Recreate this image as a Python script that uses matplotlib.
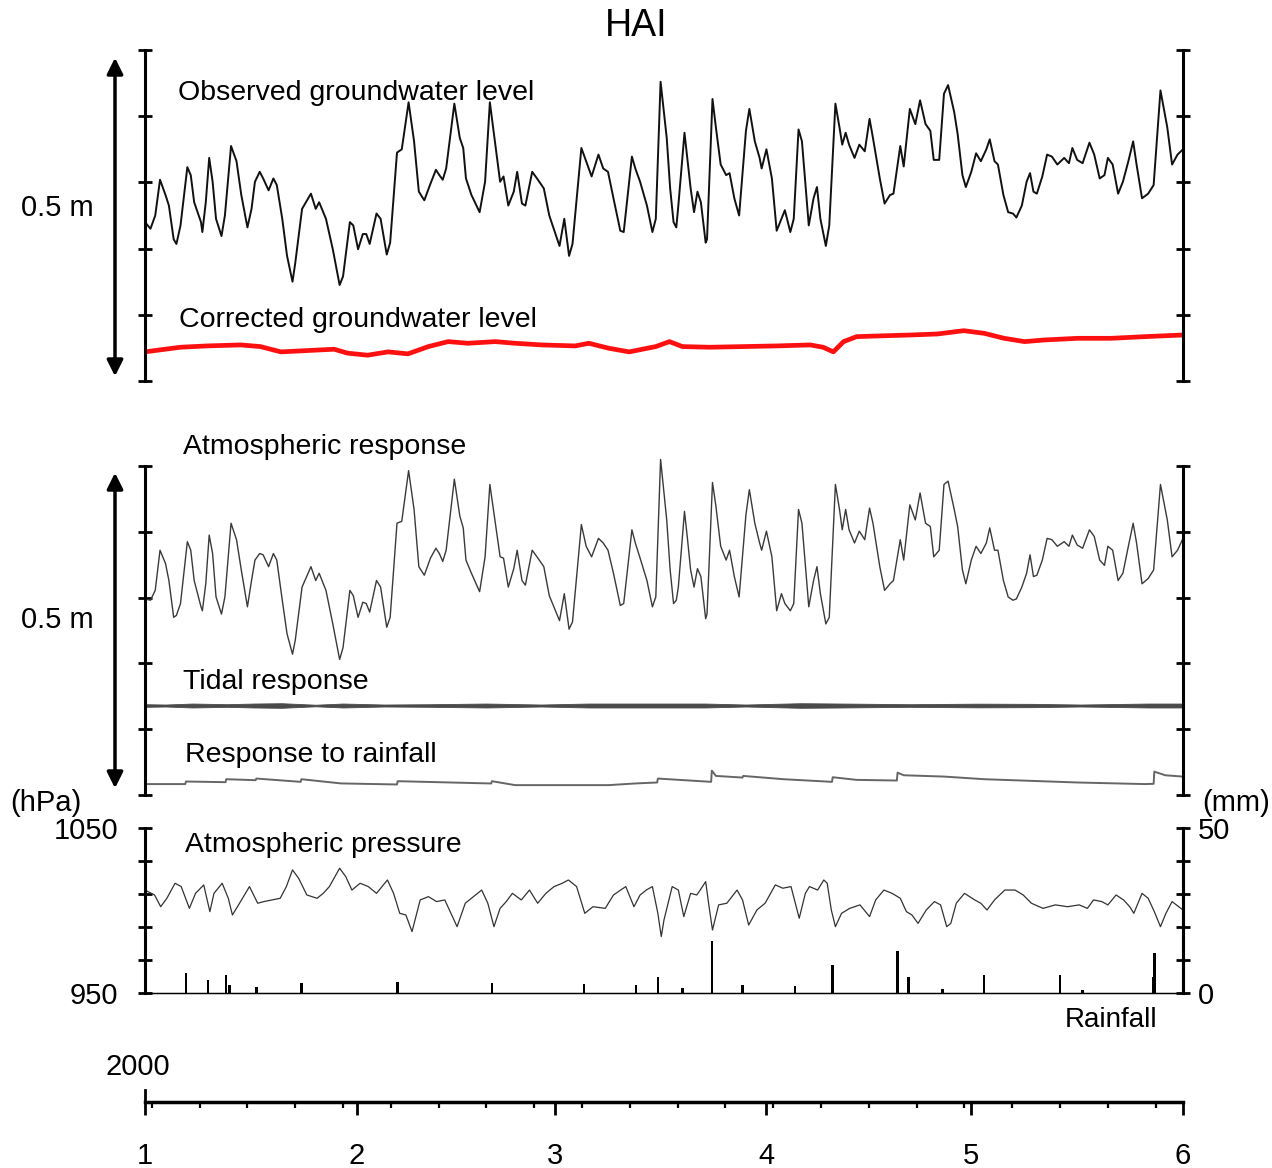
import matplotlib
matplotlib.use("Agg")
import matplotlib.pyplot as plt
from matplotlib.patches import FancyArrowPatch

plt.rcParams['font.family'] = ['Liberation Sans', 'DejaVu Sans']

# ---- data (day of year 2000, Jan 1 = 0) ----
lvl_day = [0.0, 0.8, 1.5, 2.2, 3.0, 3.5, 4.2, 4.6, 5.2, 6.2, 6.7, 7.2, 8.2, 8.4, 8.9, 9.4, 9.9, 10.4,
           11.2, 11.7, 12.6, 13.4, 14.1, 15.0, 15.6, 16.1, 16.8, 17.3, 18.1, 18.8, 19.3, 20.1, 20.8,
           21.6, 22.0, 23.0, 24.3, 25.0, 25.5, 26.5, 27.5, 28.5, 29.0, 30.0, 30.5, 31.2, 31.9, 32.4,
           32.9, 33.9, 34.5, 35.4, 35.9, 36.9, 37.6, 38.6, 39.4, 40.1, 40.9, 41.8, 42.6, 43.1, 43.6,
           44.1, 45.3, 46.1, 46.6, 47.0, 47.8, 49.0, 49.8, 50.5, 51.3, 52.0, 52.5, 53.2, 54.0, 54.5,
           55.2, 55.7, 56.7, 57.4, 58.4, 59.2, 60.7, 61.4, 62.1, 62.6, 63.9, 64.6, 65.4, 66.4, 67.1,
           67.8, 68.6, 69.6, 70.1, 71.3, 71.8, 72.5, 73.5, 74.3, 74.8, 75.5,
           76.4, 76.9, 77.4, 77.8, 78.1, 79.0, 79.4, 79.9, 80.4, 80.9, 81.4, 82.1, 82.3, 83.1, 83.6,
           84.3, 85.1, 85.6, 86.3, 87.0, 88.0, 88.5, 89.3, 90.0, 90.3, 91.0, 91.8, 92.5, 93.2, 93.7,
           94.5, 95.0, 95.7, 96.2, 97.2, 97.9, 98.4, 98.9, 99.7, 100.2, 101.1, 101.7, 102.1, 102.6,
           103.1, 103.9, 104.6, 105.4, 106.1, 106.6, 107.6, 108.3, 109.1, 109.6, 110.6, 111.1, 112.0,
           112.8, 113.5, 114.3, 115.0, 115.5, 116.3, 117.0, 117.6, 118.5, 119.0, 119.7, 120.2, 121.0,
           121.7, 122.4, 123.2, 123.7, 124.4, 124.9, 125.7, 126.4, 127.1, 127.6, 128.4, 129.1, 129.6,
           130.1, 130.6, 131.4, 132.1, 132.8, 133.6, 134.6, 135.3, 135.8, 136.5, 137.3, 138.3, 139.0,
           139.8, 140.5, 141.0, 141.7, 142.5, 143.2, 144.0, 144.7, 145.2, 146.0, 146.9, 147.7, 148.7,
           149.7, 150.4, 151.2, 152.0]

# observed groundwater level (cm above panel base)
observed = [24.0, 23.0, 25.0, 30.4, 28.1, 26.5, 21.4, 20.7, 23.5, 32.3, 31.1, 27.0, 24.0, 22.5, 27.0,
            33.7, 30.1, 24.5, 21.9, 25.0, 35.5, 33.2, 28.1, 23.2, 26.0, 30.1, 31.6, 30.6, 28.8, 30.6,
            29.6, 24.5, 18.9, 15.0, 17.8, 26.0, 28.3, 26.0, 27.0, 24.5, 19.9, 14.5, 15.8, 24.0, 23.5,
            19.9, 22.2, 22.2, 20.7, 25.3, 24.5, 19.1, 20.9, 34.5, 35.0, 42.1, 36.2, 28.6, 27.3, 29.8,
            31.9, 31.1, 30.4, 32.1, 41.9, 36.7, 35.2, 30.6, 28.1, 25.5, 30.1, 42.1, 35.7, 30.1, 30.9,
            26.5, 28.6, 31.6, 26.8, 26.5, 31.6, 30.6, 29.1, 25.0, 20.4, 24.5, 18.9, 20.7, 35.2, 33.2,
            30.9, 34.2, 32.1, 31.6, 27.6, 22.7, 22.5, 33.9, 32.1, 30.1, 26.5, 22.5, 24.5, 45.2,
            36.7, 29.1, 24.0, 23.2, 26.5, 37.5, 33.7, 29.1, 25.5, 28.6, 27.0, 20.9, 21.4, 42.6, 38.3,
            32.7, 31.1, 31.4, 27.6, 25.0, 37.8, 41.1, 36.2, 33.7, 32.1, 35.0, 30.6, 22.7, 24.5, 25.8,
            22.5, 24.5, 38.0, 36.2, 23.5, 27.6, 29.3, 24.5, 20.4, 23.5, 41.9, 38.3, 35.7, 37.5,
            35.7, 33.7, 35.7, 34.7, 39.6, 36.7, 30.6, 26.8, 28.1, 28.3, 35.5, 32.4, 41.1,
            38.8, 42.4, 38.8, 37.8, 33.4, 33.4, 43.4, 44.7, 40.6, 37.3, 31.1, 29.3, 31.6,
            34.4, 33.2, 35.0, 36.5, 33.2, 32.7, 28.1, 25.5, 25.3, 24.7, 26.5, 30.1, 31.4,
            28.6, 28.3, 30.9, 34.2, 33.9, 32.7, 33.7, 32.9, 35.2, 33.4, 32.9, 36.0, 34.2,
            30.6, 31.1, 33.7, 32.7, 28.3, 30.1, 33.2, 36.2, 32.7, 27.6, 28.3, 29.6, 43.9,
            38.3, 32.7, 34.2, 35.0]

# atmospheric response (cm above panel base)
atm_resp = [29.8, 29.6, 31.1, 37.2, 35.2, 32.6, 27.0, 27.3, 29.1, 38.5, 37.2, 32.6, 28.6, 28.0, 32.1,
            39.5, 36.7, 30.1, 27.5, 30.1, 41.3, 38.8, 34.2, 28.6, 32.6, 35.7, 36.7, 36.5, 34.7, 36.7,
            35.7, 29.6, 24.5, 21.4, 23.5, 31.6, 34.7, 32.6, 33.7, 31.1, 26.0, 20.6, 22.4, 31.1, 30.3,
            27.0, 29.3, 29.1, 27.8, 32.6, 31.6, 25.5, 27.0, 41.3, 41.6, 49.3, 43.4, 34.7, 33.4, 36.0,
            37.5, 36.7, 35.5, 37.2, 48.0, 42.4, 40.6, 35.7, 33.7, 30.9, 36.2, 47.2, 41.3, 36.2, 36.0,
            31.6, 34.4, 37.2, 32.6, 31.9, 37.2, 36.2, 34.7, 30.3, 26.5, 30.6, 25.2, 26.3, 41.1, 37.8,
            36.2, 39.0, 38.3, 37.2, 33.7, 28.8, 29.1, 40.3, 38.3, 36.0, 32.6, 28.6, 30.1, 51.0,
            41.8, 34.2, 29.1, 29.6, 31.6, 43.1, 39.3, 34.2, 31.6, 34.4, 33.2, 26.8, 27.5, 47.5, 43.9,
            37.8, 35.7, 37.2, 33.2, 30.1, 42.6, 46.4, 41.3, 38.3, 37.2, 40.1, 36.2, 28.0, 30.6, 29.1,
            28.0, 29.1, 43.4, 41.3, 28.6, 32.6, 34.7, 30.6, 26.0, 27.0, 47.2, 43.4, 40.3, 43.4,
            40.3, 38.3, 40.1, 38.8, 43.6, 41.3, 34.7, 31.1, 32.1, 32.6, 38.8, 35.7, 44.1,
            41.8, 45.9, 41.3, 40.8, 36.2, 37.2, 47.2, 47.7, 43.4, 40.8, 34.2, 32.1, 35.7,
            37.8, 36.7, 38.3, 40.6, 37.2, 37.2, 32.6, 30.1, 29.6, 29.8, 31.6, 33.7, 36.5,
            33.2, 33.4, 35.7, 39.0, 38.8, 37.8, 38.5, 37.8, 39.5, 38.0, 37.5, 40.3, 39.3,
            35.7, 34.9, 37.8, 37.2, 32.6, 33.7, 37.8, 41.3, 38.3, 32.1, 32.9, 34.2, 47.2,
            41.8, 36.2, 37.2, 39.0]

# corrected groundwater level (cm above panel base)
corr_day = [0.0, 2.2, 5.2, 9.1, 14.0, 16.9, 19.9, 23.8, 27.7, 29.7, 32.6, 35.6, 38.5, 41.5, 44.4,
            47.3, 51.3, 54.2, 58.1, 63.0, 65.0, 67.9, 70.9, 74.8, 76.8, 78.7, 82.7, 87.6, 92.5,
            97.4, 99.3, 100.8, 102.3, 104.2, 107.2, 112.1, 116.0, 119.9, 122.9, 125.8, 128.8,
            131.7, 136.6, 141.5, 146.4, 152.0]
corrected = [4.4, 4.7, 5.1, 5.3, 5.45, 5.2, 4.4, 4.6, 4.8, 4.2, 3.9, 4.4, 4.1, 5.2, 5.95,
             5.7, 5.95, 5.7, 5.45, 5.3, 5.7, 4.95, 4.4, 5.2, 5.95, 5.2, 5.1, 5.2, 5.3,
             5.45, 5.1, 4.4, 5.95, 6.7, 6.8, 6.95, 7.1, 7.6, 7.2, 6.45, 5.95,
             6.2, 6.45, 6.45, 6.7, 6.95]

# tidal response: mean level and half-range of the oscillation (cm)
tide_day = [0, 3, 7, 12, 16, 20, 25, 29, 35, 42, 50, 58, 65, 75, 82, 88, 96, 102, 112, 122, 130,
            137, 147, 152]
tide_amp = [0.2, 0.15, 0.3, 0.2, 0.3, 0.35, 0.12, 0.3, 0.15, 0.2, 0.3, 0.15, 0.3, 0.3, 0.3,
            0.15, 0.35, 0.3, 0.2, 0.28, 0.25, 0.15, 0.3, 0.3]
tide_mean = 13.6

# response to rainfall (cm above panel base)
rr_day = [0, 5.9, 6.0, 11.8, 11.9, 16.2, 16.3, 22.8, 22.9, 28.7, 36.9, 37.0, 50.7, 50.8, 54.2,
          67.9, 71.9, 75.0, 75.1, 82.9, 83.0, 83.6, 87.5, 87.6, 93.5, 100.6, 100.7, 104.2, 110.1,
          110.2, 111.1, 117.0, 122.9, 136.6, 146.4, 147.7, 147.8, 149.4, 152.0]
rr_resp = [1.66, 1.66, 2.05, 1.95, 2.4, 2.25, 2.5, 2.0, 2.4, 1.76, 1.6, 2.1, 1.75, 2.1, 1.5,
           1.5, 1.76, 1.9, 2.5, 2.0, 3.7, 2.9, 2.65, 2.9, 2.4, 2.0, 2.7, 2.3, 2.2,
           3.4, 3.0, 2.8, 2.4, 1.9, 1.66, 1.7, 3.55, 3.0, 2.8]

# atmospheric pressure (hPa)
p_day = [0.0, 1.4, 2.3, 3.2, 4.4, 5.3, 6.5, 7.4, 8.6, 9.5, 10.1, 11.3, 12.2, 12.8, 13.7, 15.3, 16.5,
         17.4, 18.6, 19.8, 20.7, 21.6, 22.5, 23.7, 25.2, 26.1, 27.0, 28.5, 29.4, 30.3, 31.5, 32.7,
         33.9, 35.5, 36.4, 37.3, 38.2, 39.1, 40.3, 41.5, 42.7, 43.9, 44.8, 45.7, 46.9, 48.1, 49.3,
         50.2, 51.1, 52.0, 52.9, 53.8, 55.1, 56.3, 57.5, 58.7, 59.9, 61.1, 62.0, 63.2, 64.4, 65.6,
         67.4, 68.6, 70.4, 71.6,
         72.5, 73.4, 74.3, 75.1, 75.6, 76.0, 77.2, 78.1, 78.9, 79.9, 80.8, 81.3, 82.1, 82.6, 83.1,
         84.0, 85.2, 86.7, 87.5, 88.4, 89.6, 90.8, 92.3, 93.4, 94.6, 95.8, 96.7, 97.3, 98.5, 99.4,
         99.9, 100.5, 101.1, 102.0, 103.2, 104.7, 106.1, 107.0, 108.2, 109.4, 110.6, 111.5, 112.3,
         113.2, 114.4, 115.6, 116.5, 117.4, 118.0, 118.8, 120.0, 121.5, 122.4, 123.3, 124.4, 125.9,
         127.4, 128.6, 129.8, 131.5, 133.3, 135.1, 136.8, 138.0, 138.9, 140.1, 141.0, 142.2, 143.3,
         144.2, 144.8, 146.0, 146.9, 147.8, 148.7, 149.5, 150.4, 152.0]
pressure = [1012.4, 1009.4, 1002.3, 1007.4, 1016.5, 1014.5, 1001.3, 1010.4, 1015.5, 999.3, 1010.4,
            1016.5, 1007.4, 997.3, 1003.4, 1014.5, 1004.4, 1005.4, 1006.4, 1007.4, 1014.5, 1024.6,
            1019.5, 1009.4, 1007.4, 1010.4, 1014.5, 1025.6, 1020.5, 1012.4, 1016.5, 1014.5, 1010.4,
            1018.5, 1010.4, 998.3, 997.3, 987.2, 1006.4, 1008.4, 1005.4, 1006.4, 998.3, 990.2,
            1004.4, 1008.4, 1012.4, 1004.4, 990.2, 1001.3, 1005.4, 1010.4, 1006.4, 1012.4, 1004.4,
            1010.4, 1014.5, 1016.5, 1018.5, 1014.5, 998.3, 1002.3, 1001.3, 1009.4, 1014.5, 1002.3,
            1009.4, 1012.4, 1014.5, 998.3, 984.2, 994.3, 1014.5, 1012.4, 996.3, 1010.4, 1009.4,
            1012.4, 1017.5, 1002.3, 988.2, 1003.4, 1004.4, 1012.4, 1006.4, 991.2, 1000.3, 1004.4,
            1015.5, 1013.5, 1014.5, 995.3, 1010.4, 1014.5, 1012.4, 1018.5, 1016.5, 1000.3, 990.2,
            998.3, 1001.3, 1003.4, 996.3, 1006.4, 1012.4, 1010.4, 1007.4, 999.3, 997.3, 992.2,
            1000.3, 1005.4, 1003.4, 990.2, 992.2, 1004.4, 1010.4, 1006.4, 1004.4, 1000.3, 1006.4,
            1012.4, 1012.4, 1009.4, 1004.4, 1001.3, 1003.4, 1002.3, 1003.4, 1001.3, 1006.4, 1005.4,
            1003.4, 1009.4, 1006.4, 1002.3, 998.3, 1010.4, 1007.4, 999.3, 990.2, 998.3, 1005.4,
            1000.3]

# daily rainfall (mm)
rain_day = [6.0, 9.2, 11.9, 12.4, 16.3, 22.9, 37.0, 50.8, 64.3, 71.9, 75.1, 78.7, 83.0, 87.5,
            95.2, 100.7, 110.2, 111.8, 116.8, 122.9, 134.0, 137.3, 147.6, 147.8]
rain_mm = [6.1, 4.0, 5.6, 2.5, 1.8, 3.0, 3.2, 3.0, 2.8, 2.5, 4.8, 1.4, 15.7, 2.5,
           2.0, 8.6, 12.6, 5.0, 1.3, 5.6, 5.6, 0.8, 5.0, 12.1]

month_start = [0, 31, 60, 91, 121, 152]
month_labels = ['1', '2', '3', '4', '5', '6']
sundays = list(range(1, 152, 7))

# ---- layout helpers (pixels -> figure fraction) ----
W, H = 1272, 1168
fig = plt.figure(figsize=(W / 100, H / 100), dpi=100)


def fx(px):
    return px / W


def fy(py):
    return 1 - py / H


def panel(top, bottom):
    ax = fig.add_axes([fx(145), fy(bottom), fx(1183) - fx(145), (bottom - top) / H])
    ax.set_xlim(0, 152)
    ax.spines['top'].set_visible(False)
    ax.spines['bottom'].set_visible(False)
    for s in ('left', 'right'):
        ax.spines[s].set_linewidth(2.2)
    ax.set_xticks([])
    ax.tick_params(axis='y', direction='inout', length=10, width=2,
                   left=True, right=True, labelleft=False)
    return ax


# panel 1: groundwater level
ax1 = panel(50, 381)
ax1.set_ylim(0, 50)
ax1.set_yticks(range(0, 51, 10))
ax1.plot(lvl_day, observed, color='#111111', lw=1.4)
ax1.plot(corr_day, corrected, color='#ff1010', lw=3.4)

# panel 2: components
ax2 = panel(466, 795)
ax2.set_ylim(0, 50)
ax2.set_yticks(range(0, 51, 10))
ax2.plot(lvl_day, atm_resp, color='#3a3a3a', lw=1.0, clip_on=False)
lo = [tide_mean - a for a in tide_amp]
hi = [tide_mean + a for a in tide_amp]
ax2.fill_between(tide_day, lo, hi, color='#4a4a4a', lw=0.6, edgecolor='#4a4a4a')
ax2.plot(rr_day, rr_resp, color='#666666', lw=1.4)

# panel 3: pressure and rainfall
ax3 = fig.add_axes([fx(145), fy(993), fx(1183) - fx(145), (993 - 828) / H])
ax3.set_xlim(0, 152)
ax3.set_ylim(950, 1050)
ax3.set_xticks([])
ax3.spines['top'].set_visible(False)
ax3.spines['bottom'].set_linewidth(1.0)
ax3.spines['left'].set_linewidth(2.2)
ax3.spines['right'].set_linewidth(2.2)
ax3.set_yticks(range(950, 1051, 20))
ax3.set_yticklabels(['950', '', '', '', '', '1050'], fontsize=21)
ax3.tick_params(axis='y', direction='inout', length=10, width=2, pad=14)
ax3.plot(p_day, pressure, color='#333333', lw=0.9)

ax3r = ax3.twinx()
ax3r.set_ylim(0, 50)
ax3r.set_yticks(range(0, 51, 10))
ax3r.set_yticklabels(['0', '', '', '', '', '50'], fontsize=21)
ax3r.tick_params(axis='y', direction='inout', length=10, width=2, pad=6)
ax3r.spines['top'].set_visible(False)
ax3r.spines['right'].set_linewidth(2.2)
ax3r.bar(rain_day, rain_mm, width=0.35, color='black')

# time axis
ax4 = fig.add_axes([fx(145), fy(1102), fx(1183) - fx(145), 12 / H])
ax4.set_xlim(0, 152)
ax4.set_ylim(0, 1)
ax4.set_yticks([])
for s in ('top', 'right'):
    ax4.spines[s].set_visible(False)
ax4.spines['bottom'].set_linewidth(2.5)
ax4.spines['left'].set_linewidth(2.0)
ax4.set_xticks(month_start)
ax4.set_xticklabels(month_labels, fontsize=21)
ax4.set_xticks(sundays, minor=True)
ax4.tick_params(axis='x', which='major', direction='out', length=9, width=2, pad=20)
ax4.tick_params(axis='x', which='minor', direction='out', length=4.5, width=1.6)
ax4.patch.set_visible(False)

# scale-bar arrows
for top, bot, ylab in [(55, 379, 208), (470, 791, 620)]:
    arr = FancyArrowPatch((fx(115), fy(bot)), (fx(115), fy(top)), transform=fig.transFigure,
                          arrowstyle='<|-|>', mutation_scale=24, lw=2.5, color='black')
    fig.add_artist(arr)
    fig.text(fx(57), fy(ylab), '0.5 m', fontsize=21, ha='center', va='center')

# texts
fig.text(fx(636), fy(26), 'HAI', fontsize=27, ha='center', va='center')
fig.text(fx(178), fy(93), 'Observed groundwater level', fontsize=20.5, va='center')
fig.text(fx(179), fy(320), 'Corrected groundwater level', fontsize=20.5, va='center')
fig.text(fx(183), fy(447), 'Atmospheric response', fontsize=20.5, va='center')
fig.text(fx(183), fy(682), 'Tidal response', fontsize=20.5, va='center')
fig.text(fx(185), fy(755), 'Response to rainfall', fontsize=20.5, va='center')
fig.text(fx(185), fy(845), 'Atmospheric pressure', fontsize=20.5, va='center')
fig.text(fx(46), fy(803), '(hPa)', fontsize=21, ha='center', va='center')
fig.text(fx(1236), fy(803), '(mm)', fontsize=21, ha='center', va='center')
fig.text(fx(1111), fy(1020), 'Rainfall', fontsize=20, ha='center', va='center')
fig.text(fx(138), fy(1067), '2000', fontsize=21, ha='center', va='center')

fig.savefig('out.png', dpi=100)
